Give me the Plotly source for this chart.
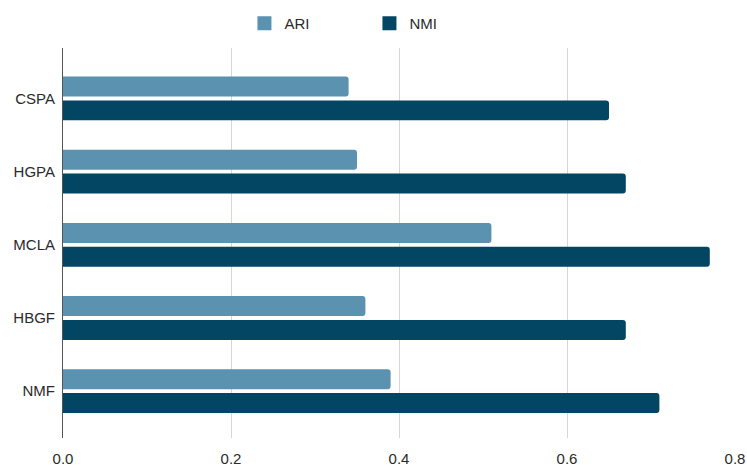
import plotly.graph_objects as go

methods = ["CSPA", "HGPA", "MCLA", "HBGF", "NMF"]
ari = [0.34, 0.35, 0.51, 0.36, 0.39]
nmi = [0.65, 0.67, 0.77, 0.67, 0.71]
x_ticks = [0.0, 0.2, 0.4, 0.6, 0.8]
x_tick_text = ["0.0", "0.2", "0.4", "0.6", "0.8"]

ARI_COLOR = "#5a92b0"
NMI_COLOR = "#034663"
FONT = "Liberation Sans, Arial, sans-serif"
TEXT_COLOR = "#2a2a2a"

fig = go.Figure()
fig.add_trace(go.Bar(y=methods, x=ari, name="ARI", orientation="h", showlegend=False,
                     marker=dict(color=ARI_COLOR, line=dict(width=0))))
fig.add_trace(go.Bar(y=methods, x=nmi, name="NMI", orientation="h", showlegend=False,
                     marker=dict(color=NMI_COLOR, line=dict(width=0))))

# square legend keys
for name, color in [("ARI", ARI_COLOR), ("NMI", NMI_COLOR)]:
    fig.add_trace(go.Scatter(x=[None], y=[None], mode="markers", name=name,
                             marker=dict(symbol="square", size=14, color=color,
                                         line=dict(width=0))))

fig.update_layout(
    width=747, height=473,
    margin=dict(l=63, r=12, t=48, b=35, autoexpand=False),
    paper_bgcolor="white", plot_bgcolor="white",
    barmode="group", bargap=0.35, bargroupgap=0.16, barcornerradius=3,
    font=dict(family=FONT, size=15, color=TEXT_COLOR),
    legend=dict(orientation="h", x=0.27, xanchor="left", y=0.985, yanchor="top",
                yref="container", font=dict(family=FONT, size=15, color=TEXT_COLOR),
                itemwidth=30, entrywidth=80, traceorder="normal"),
    showlegend=True,
)
fig.update_xaxes(range=[0, 0.8], tickvals=x_ticks, ticktext=x_tick_text,
                 showgrid=True, gridcolor="#d6d6d6", gridwidth=1, automargin=False,
                 zeroline=False, showline=False, ticks="", ticklabelstandoff=10,
                 ticklabeloverflow="allow")
fig.update_yaxes(type="category", range=[4.64, -0.69], showgrid=False, automargin=False,
                 showline=True, linecolor="#555555", linewidth=1,
                 ticks="", ticklabelstandoff=4)

fig.write_html("out.html")
